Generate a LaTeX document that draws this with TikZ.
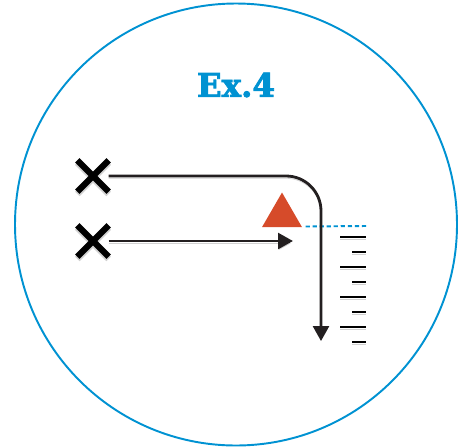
\documentclass[tikz,border=0pt]{standalone}
\usepackage{fontspec}
\newfontfamily\exfont[FakeBold=2.5]{DejaVu Serif Bold}
\usetikzlibrary{arrows.meta,shapes.misc,shapes.geometric}
\definecolor{exblue}{RGB}{0,146,210}
\definecolor{wallred}{RGB}{214,75,42}
\definecolor{ink}{RGB}{35,31,32}
\tikzset{
  shade/.style={preaction={draw=black!18,transform canvas={yshift=-1.3pt}}},
  source/.style={cross out,draw=black,line width=3.6pt,minimum size=0.5cm,inner sep=0pt,shade},
  ray/.style={draw=ink,line width=1.6pt,shade,-{Triangle[length=8.5pt,width=9pt]}},
  tick/.style={draw=black,line width=1.5pt,shade}
}
\begin{document}
\begin{tikzpicture}[x=0.02cm,y=-0.02cm]
\useasboundingbox (0,0) rectangle (466,447);
\draw[exblue,line width=1.1pt] (236,224.5) circle[radius=221];
\node[text=exblue,font=\exfont\fontsize{18.5}{20}\selectfont] (title) at (236,85) {Ex.4};
\node[source] (s1) at (93,176) {};
\node[source] (s2) at (93,241) {};
\node[regular polygon,regular polygon sides=3,fill=wallred,minimum size=0.924cm,inner sep=0pt] (wall) at (282,215.6) {};
\coordinate (level) at (366,226);
\coordinate (drop) at (321,341);
\coordinate (stop) at (293,241);
\draw[exblue,line width=1.1pt,dash pattern=on 2.4pt off 1.6pt] (wall.corner 3) ++(3,-1) -- (level);
\draw[ray,rounded corners=0.7cm] (s1.east) -- (321,176) -- (drop);
\draw[ray] (s2.east) -- (stop);
\foreach \y in {237,267,297,327} \draw[tick] (340,\y) -- (366,\y);
\foreach \y in {252,282,312,342} \draw[tick] (352,\y) -- (366,\y);
\end{tikzpicture}
\end{document}
